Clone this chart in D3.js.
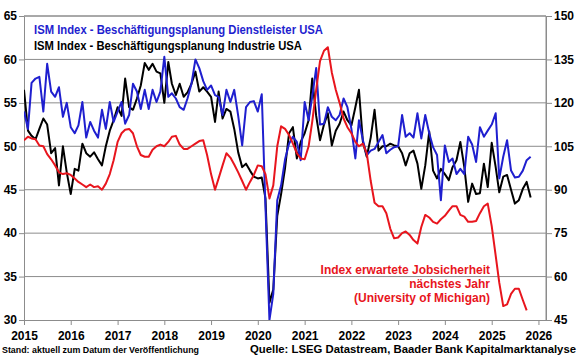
<!DOCTYPE html>
<html>
<head>
<meta charset="utf-8">
<script src="https://cdn.jsdelivr.net/npm/d3@7"></script>
<style>
html,body{margin:0;padding:0;background:#fff;}
svg{display:block;font-family:"Liberation Sans",Arial,sans-serif;}
</style>
</head>
<body>
<svg id="chart" width="580" height="359"></svg>
<script>
// ---- data (monthly, from Jan 2015) ----
const startYear = 2015;
const services = [ // ISM Beschäftigung Dienstleister (left axis)
  54, 52, 57.3, 57.8, 58, 54, 59.5, 56.3, 55.7, 56.8, 53.4, 55,
  52.2, 51.5, 52.4, 55.1, 51, 52.8, 51.8, 51, 54.2, 52, 55.1, 52.8,
  54, 55.1, 52.6, 53.6, 57.2, 56.3, 54.3, 56.5, 54.3, 56.5, 55.1, 56.3,
  60.3, 55.7, 56.1, 55.5, 54.5, 54.2, 55.5, 57.2, 60, 59, 57.5, 56.5,
  57, 55.9, 55.7, 53.6, 56.5, 55.1, 56.5, 53.5, 50.1, 54.5, 55.1, 55.2,
  54, 56, 43, 30, 33, 43.8, 45.5, 48.5, 50.3, 51.1, 50.5, 48.4,
  55.1, 53, 55.7, 59, 52.5, 52.6, 54.5, 53.4, 53, 53.6, 55.5, 54.5,
  52, 48.6, 53, 50.7, 49, 49.5, 49.7, 50.5, 51.3, 49.2, 49.6, 49.9,
  50, 53.6, 51.1, 51.5, 51, 53.8, 50.9, 53.6, 51.5, 49.9, 49, 43.8,
  50.1, 48.2, 48.6, 46.8, 47.4, 46.8, 51.1, 50.2, 48.2, 52.2, 51.1, 51.8,
  52.5, 53.8, 46.3, 48.8, 50.7, 47.2, 46.4, 46.5, 47.2, 48.4, 48.8
];
const industry = [ // ISM Beschäftigung Industrie (left axis)
  56.5, 51.8, 51.2, 50.8, 52, 53.2, 52.5, 49.2, 49.8, 45.5, 50, 47,
  44.5, 47.4, 47.2, 50.3, 49.2, 48.8, 49.3, 48.5, 47.8, 50, 51.8, 53,
  54.5, 53.5, 57.8, 54.5, 54.2, 55.5, 57, 59.6, 58.8, 59.5, 58.6, 58.4,
  55, 59.7, 57.2, 55.9, 57.2, 55.7, 56.2, 57.2, 58.6, 56.3, 56.8, 56.3,
  55.7, 52.8, 56.3, 53.2, 54.3, 54, 52, 49.3, 47.6, 48, 47.2, 46.5,
  46.3, 46.4, 44, 32, 33.5, 42, 44.5, 47.5, 51.5, 52.2, 48.6, 50.5,
  51.5, 53, 57.8, 53.5, 50.7, 52.5, 53.8, 50.1, 51.8, 52.6, 54, 53,
  52.4, 54.5, 56.5, 50.5, 48.8, 51, 54.2, 49.5, 50, 50, 50.3, 50.1,
  50, 49.2, 47.8, 49.2, 49.5, 48, 45.1, 47.8, 51.7, 47.2, 46.3, 47.4,
  46.8, 46.1, 47.6, 48.4, 50.5, 47.6, 43.6, 45.7, 44.5, 44.6, 48, 45.3,
  50.4, 47.6, 44.7, 46.5, 46.7, 45, 43.4, 43.8, 45.1, 45.9, 44.1
];
const jobSecurity = [ // Michigan, erwartete Jobsicherheit (right axis)
  107.1, 108.3, 107.7, 107.4, 105.3, 105, 102.3, 100.5, 98.4, 96, 95.4, 95.7,
  95.1, 93.9, 92.7, 91.8, 90.9, 91.8, 90.9, 91.2, 90, 92.1, 95.4, 100.2,
  106.5, 109.5, 110.7, 111, 109.5, 105, 102, 101.4, 101.4, 103.8, 105, 105.6,
  105, 106.5, 108.3, 108.6, 105.6, 104.1, 104.1, 105, 105.9, 106.8, 107.1, 102,
  95.4, 90, 93.9, 98.4, 102.6, 101.1, 98.7, 96, 93, 90, 92.7, 95.1,
  98.4, 98.1, 95.4, 87, 91.5, 105, 111.9, 111, 108.9, 105.9, 102.6, 100.8,
  100.5, 105, 113.4, 124.5, 134.4, 138, 139.2, 130.5, 124.5, 120, 114.6, 111.6,
  109.5, 106.5, 105, 105.9, 102.6, 93, 85.5, 84.3, 84.3, 81.9, 76.5, 73.2,
  73.5, 75, 75.6, 74.4, 72.6, 71.4, 77.1, 81.3, 80.4, 78.9, 78.3, 79.8,
  81, 82.8, 84.3, 84.3, 81.3, 80.7, 78.9, 78.9, 79.2, 81.9, 84.3, 85.2,
  77.4, 67.2, 57.9, 49.8, 50.4, 54, 55.8, 55.8, 51.9, 48.3
];
const leftTicks = [30, 35, 40, 45, 50, 55, 60, 65];
const rightTicks = [45, 60, 75, 90, 105, 120, 135, 150];
const yearTicks = [2015, 2016, 2017, 2018, 2019, 2020, 2021, 2022, 2023, 2024, 2025, 2026];
const legendLabels = ["ISM Index - Beschäftigungsplanung Dienstleister USA",
                      "ISM Index - Beschäftigungsplanung Industrie USA"];
const annotationLines = ["Index erwartete Jobsicherheit", "nächstes Jahr", "(University of Michigan)"];
const footLeft = "Stand: aktuell zum Datum der Veröffentlichung";
const footRight = "Quelle: LSEG Datastream, Baader Bank Kapitalmarktanalyse";

// ---- layout ----
const L = 24, R = 546, T = 16, B = 320;
const BLUE = "#1f1fcf", RED = "#e8151d", GRID = "#8c8c8c";
const svg = d3.select("#chart");

const x = d3.scaleTime().domain([new Date(2015, 0, 1), new Date(2026, 2, 1)]).range([L, R]);
const yL = d3.scaleLinear().domain([30, 65]).range([B, T]);
const yR = d3.scaleLinear().domain([45, 150]).range([B, T]);
const dateOf = i => new Date(startYear, i, 1);

// gridlines
svg.append("g").selectAll("line").data(leftTicks.filter(v => v > 30)).join("line")
  .attr("x1", L).attr("x2", R).attr("y1", d => yL(d)).attr("y2", d => yL(d))
  .attr("stroke", GRID).attr("stroke-width", 1);

// plot frame (right side)
svg.append("line").attr("x1", R).attr("x2", R).attr("y1", T).attr("y2", B).attr("stroke", GRID);

function styleAxis(g) {
  g.select(".domain").attr("stroke", GRID);
  g.selectAll(".tick line").attr("stroke", GRID);
  g.selectAll("text").attr("fill", "#000").attr("font-size", 12).attr("font-weight", "bold")
    .attr("font-family", "'Liberation Sans', Arial, sans-serif");
}

svg.append("g").attr("transform", `translate(${L},0)`)
  .call(d3.axisLeft(yL).tickValues(leftTicks).tickSize(5).tickPadding(2).tickSizeOuter(0))
  .call(styleAxis);
svg.append("g").attr("transform", `translate(${R},0)`)
  .call(d3.axisRight(yR).tickValues(rightTicks).tickSize(6).tickPadding(2).tickSizeOuter(0))
  .call(styleAxis);
svg.append("g").attr("transform", `translate(0,${B})`)
  .call(d3.axisBottom(x).tickValues(yearTicks.map(y => new Date(y, 0, 1)))
    .tickFormat(d3.timeFormat("%Y")).tickSize(5).tickPadding(6).tickSizeOuter(0))
  .call(styleAxis);

// clip
svg.append("clipPath").attr("id", "clip").append("rect")
  .attr("x", L).attr("y", T - 2).attr("width", R - L).attr("height", B - T + 2);

const lineL = d3.line().x((d, i) => x(dateOf(i))).y(d => yL(d));
const lineR = d3.line().x((d, i) => x(dateOf(i))).y(d => yR(d));
const plot = svg.append("g").attr("clip-path", "url(#clip)");
plot.append("path").datum(industry).attr("d", lineL).attr("fill", "none")
  .attr("stroke", "#000").attr("stroke-width", 2).attr("stroke-linejoin", "round");
plot.append("path").datum(services).attr("d", lineL).attr("fill", "none")
  .attr("stroke", BLUE).attr("stroke-width", 2).attr("stroke-linejoin", "round");
plot.append("path").datum(jobSecurity).attr("d", lineR).attr("fill", "none")
  .attr("stroke", RED).attr("stroke-width", 2).attr("stroke-linejoin", "round");

// top border (drawn over)
svg.append("line").attr("x1", L).attr("x2", R).attr("y1", T).attr("y2", T).attr("stroke", GRID);

// legend
const legendColors = [BLUE, "#000"];
const legendWidths = [289, 268];
svg.append("g").selectAll("text").data(legendLabels).join("text")
  .attr("x", 34).attr("y", (d, i) => 34 + i * 16)
  .attr("fill", (d, i) => legendColors[i]).attr("font-size", 12).attr("font-weight", "bold")
  .attr("textLength", (d, i) => legendWidths[i]).attr("lengthAdjust", "spacingAndGlyphs")
  .text(d => d);

// annotation
svg.append("g").selectAll("text").data(annotationLines).join("text")
  .attr("x", 490).attr("y", (d, i) => 274 + i * 14).attr("text-anchor", "end")
  .attr("fill", RED).attr("font-size", 12).attr("font-weight", "bold")
  .text(d => d);

// footers
svg.append("text").attr("x", 2).attr("y", 353).attr("font-size", 9).attr("font-weight", "bold")
  .attr("textLength", 197).attr("lengthAdjust", "spacingAndGlyphs").text(footLeft);
svg.append("text").attr("x", 250).attr("y", 353).attr("font-size", 11.5).attr("font-weight", "bold")
  .attr("textLength", 326).attr("lengthAdjust", "spacingAndGlyphs").text(footRight);
</script>
</body>
</html>
